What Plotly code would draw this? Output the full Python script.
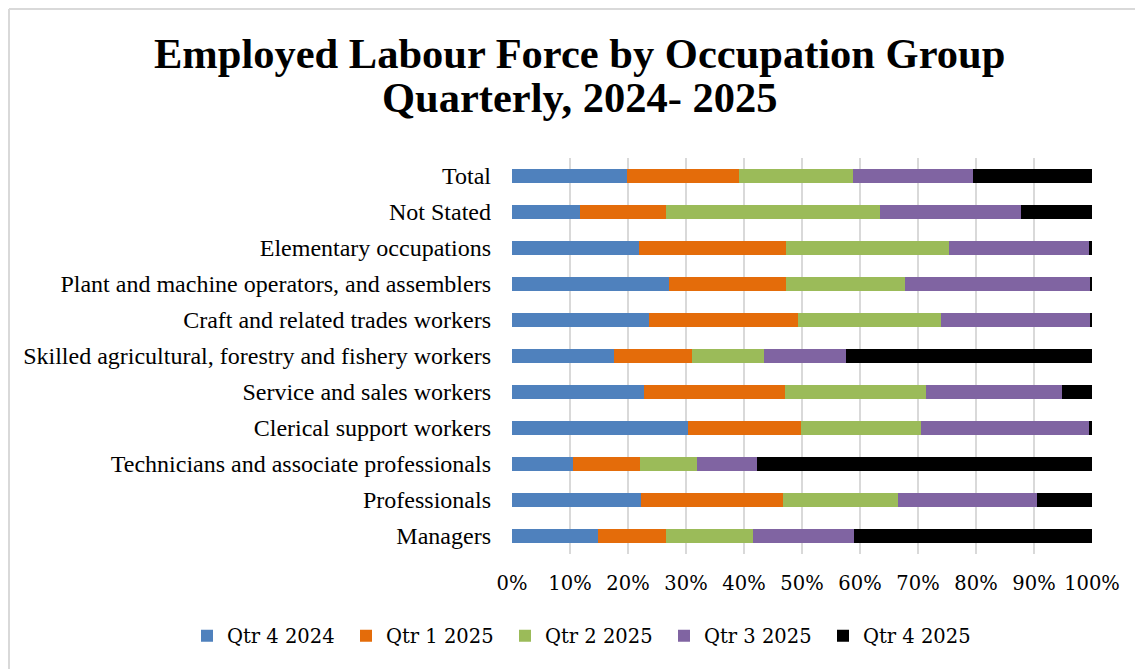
import plotly.graph_objects as go

categories = [
    "Managers",
    "Professionals",
    "Technicians and associate professionals",
    "Clerical support workers",
    "Service and sales workers",
    "Skilled agricultural, forestry and fishery workers",
    "Craft and related trades workers",
    "Plant and machine operators, and assemblers",
    "Elementary occupations",
    "Not Stated",
    "Total",
]

series_names = ["Qtr 4 2024", "Qtr 1 2025", "Qtr 2 2025", "Qtr 3 2025", "Qtr 4 2025"]

q4_2024 = [14.9, 22.3, 10.5, 30.4, 22.7, 17.5, 23.7, 27.1, 21.9, 11.8, 19.8]
q1_2025 = [11.6, 24.5, 11.6, 19.5, 24.4, 13.5, 25.6, 20.2, 25.4, 14.7, 19.3]
q2_2025 = [15.0, 19.8, 9.8, 20.7, 24.2, 12.4, 24.6, 20.5, 28.1, 36.9, 19.7]
q3_2025 = [17.5, 24.0, 10.4, 28.8, 23.6, 14.1, 25.8, 32.0, 24.0, 24.3, 20.7]
q4_2025 = [41.0, 9.4, 57.7, 0.6, 5.1, 42.5, 0.3, 0.2, 0.6, 12.3, 20.5]

colors = ["#4f81bd", "#e46c0a", "#9bbb59", "#8064a2", "#000000"]

x_ticks = [0, 10, 20, 30, 40, 50, 60, 70, 80, 90, 100]

times = "Liberation Serif, Times New Roman, serif"
cambria = "DejaVu Serif, serif"

# page has an 8px body margin; size the figure so it fits the window
OFF = 8
W, H = 1135, 661
L, R, T, B = 504, 51, 150, 115
PW, PH = W - L - R, H - T - B


def px_x(x):
    return (x - OFF - L) / PW


def px_y(y):
    return (H - B - (y - OFF)) / PH


fig = go.Figure()
for name, vals, col in zip(series_names, [q4_2024, q1_2025, q2_2025, q3_2025, q4_2025], colors):
    fig.add_trace(go.Bar(
        y=categories, x=vals, name=name, orientation="h",
        marker=dict(color=col, line=dict(width=0)),
    ))

fig.update_layout(
    barmode="stack",
    barnorm="percent",
    bargap=0.6,
    width=W, height=H,
    paper_bgcolor="white", plot_bgcolor="white",
    margin=dict(l=L, r=R, t=T, b=B),
    font=dict(family=times, size=20, color="#000000"),
    showlegend=True,
    legend=dict(
        orientation="h", x=px_x(187), xref="paper", xanchor="left",
        y=px_y(636), yref="paper", yanchor="middle",
        font=dict(family=cambria, size=19.5, color="#000000"),
        itemwidth=30, entrywidth=114, traceorder="normal",
    ),
    annotations=[
        dict(text="<b>Employed Labour Force by Occupation Group</b>", xref="paper", yref="paper",
             x=px_x(579), y=px_y(53), xanchor="center", yanchor="middle", showarrow=False,
             font=dict(family=times, size=42.5, color="#000000")),
        dict(text="<b>Quarterly, 2024- 2025</b>", xref="paper", yref="paper",
             x=px_x(579), y=px_y(98), xanchor="center", yanchor="middle", showarrow=False,
             font=dict(family=times, size=42.5, color="#000000")),
    ],
    shapes=[
        dict(type="line", xref="paper", yref="paper", x0=px_x(9), x1=px_x(1143 + 20),
             y0=px_y(9), y1=px_y(9), line=dict(color="#d9d9d9", width=2)),
        dict(type="line", xref="paper", yref="paper", x0=px_x(9), x1=px_x(9),
             y0=px_y(9), y1=px_y(669 + 20), line=dict(color="#d9d9d9", width=2)),
    ],
)

fig.update_xaxes(
    range=[0, 100], tickvals=x_ticks, ticktext=[f"{v}%" for v in x_ticks],
    showgrid=True, gridcolor="#d9d9d9", gridwidth=1.5,
    zeroline=False, showline=False, ticks="",
    tickfont=dict(family=cambria, size=19.5), ticklabelstandoff=15,
    fixedrange=True,
)
fig.update_yaxes(
    categoryorder="array", categoryarray=categories,
    showgrid=False, zeroline=False, showline=False, ticks="",
    tickfont=dict(family=times, size=24), ticklabelstandoff=20,
    fixedrange=True,
)

fig.write_html("out.html")
